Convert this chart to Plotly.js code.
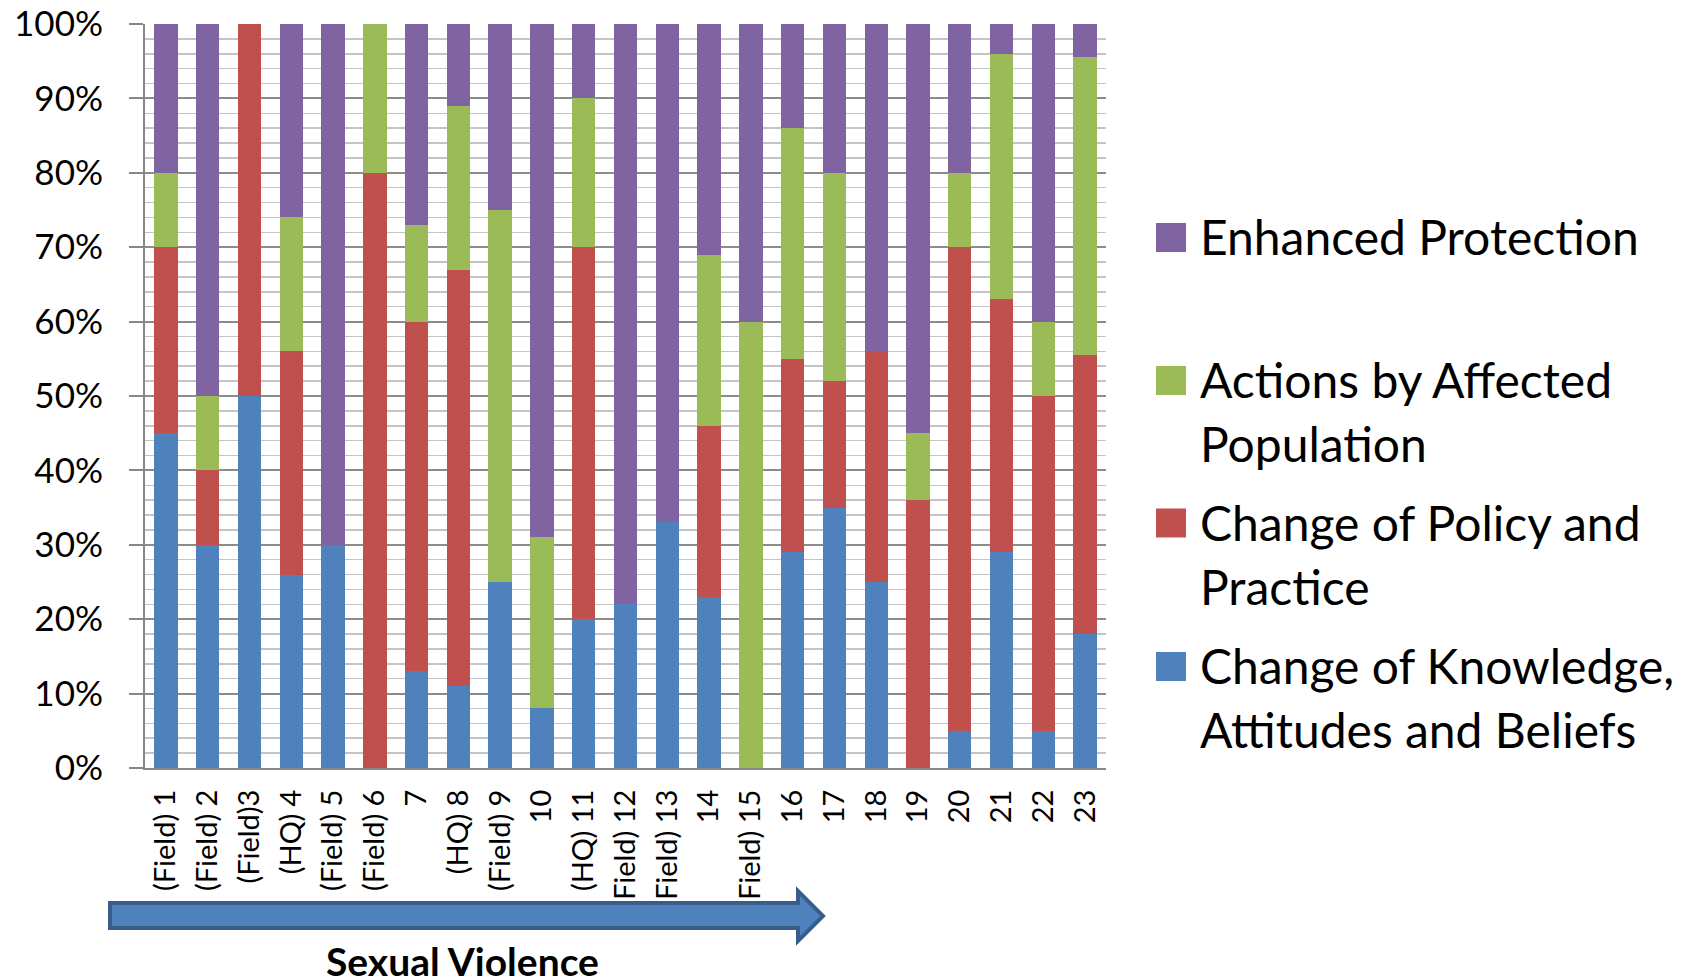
<!DOCTYPE html>
<html>
<head>
<meta charset="utf-8">
<script src="https://cdn.plot.ly/plotly-3.0.1.min.js"></script>
<style>
  html, body { margin: 0; padding: 0; background: #ffffff; }
  #chart { width: 1696px; height: 978px; }
</style>
</head>
<body>
<div id="chart"></div>
<script>
// ---- Data ----
const categories = ["(Field) 1", "(Field) 2", "(Field)3", "(HQ) 4", "(Field) 5", "(Field) 6", "7",
  "(HQ) 8", "(Field) 9", "10", "(HQ) 11", "(Field) 12", "(Field) 13", "14", "(Field) 15",
  "16", "17", "18", "19", "20", "21", "22", "23"];

const knowledge  = [45, 30, 50, 26, 30,  0, 13, 11, 25,  8, 20, 22, 33, 23,  0, 29, 35, 25,  0,  5, 29,  5, 18];
const policy     = [25, 10, 50, 30,  0, 80, 47, 56,  0,  0, 50,  0,  0, 23,  0, 26, 17, 31, 36, 65, 34, 45, 37.5];
const actions    = [10, 10,  0, 18,  0, 20, 13, 22, 50, 23, 20,  0,  0, 23, 60, 31, 28,  0,  9, 10, 33, 10, 40];
const protection = [20, 50,  0, 26, 70,  0, 27, 11, 25, 69, 10, 78, 67, 31, 40, 14, 20, 44, 55, 20,  4, 40, 4.5];

const seriesNames = ["Change of Knowledge, Attitudes and Beliefs", "Change of Policy and Practice",
  "Actions by Affected Population", "Enhanced Protection"];
const legendLines = [["Change of Knowledge,", "Attitudes and Beliefs"], ["Change of Policy and", "Practice"],
  ["Actions by Affected", "Population"], ["Enhanced Protection"]];
const seriesValues = [knowledge, policy, actions, protection];
const colors = ["#4F81BD", "#C0504D", "#9BBB59", "#8064A2"];
const groupLabel = "Sexual Violence";

// ---- Geometry helpers (pixel -> paper) ----
const W = 1696, H = 978;
const M = {l: 145, r: 590, t: 24, b: 210};
const PW = W - M.l - M.r, PH = H - M.t - M.b;
const px = x => (x - M.l) / PW;
const py = y => (H - M.b - y) / PH;

const FONT = "Lato, 'Open Sans', 'Noto Sans', sans-serif";

const traces = seriesValues.map((vals, i) => ({
  type: "bar",
  name: seriesNames[i],
  x: categories,
  y: vals,
  marker: {color: colors[i], line: {width: 0}},
  showlegend: false,
  hovertemplate: "%{x}: %{y}%<extra>" + seriesNames[i] + "</extra>"
}));

// custom legend (top entry = last series)
const shapes = [];
const annotations = [];
const legendCenters = [666.5, 523, 380.5, 237.5]; // per series index
const lineStep = 64;
seriesNames.forEach((n, i) => {
  const cy = legendCenters[i];
  shapes.push({type: "rect", xref: "paper", yref: "paper",
    x0: px(1156), x1: px(1186), y0: py(cy - 14.5), y1: py(cy + 14.5),
    fillcolor: colors[i], line: {width: 0}});
  legendLines[i].forEach((t, k) => {
    annotations.push({xref: "paper", yref: "paper", x: px(1198), y: py(cy - 1 + k * lineStep),
      xanchor: "left", yanchor: "middle", showarrow: false, text: t,
      font: {family: FONT, size: 48, color: "#000000"}});
  });
});

// Block arrow under the category labels
const ap = [[110, 903], [798, 903], [798, 891], [823, 916], [798, 941], [798, 928], [110, 928]];
const path = ap.map((p, k) => (k === 0 ? "M" : "L") + px(p[0]).toFixed(5) + "," + py(p[1]).toFixed(5)).join(" ") + " Z";
shapes.push({type: "path", xref: "paper", yref: "paper", path: path,
  fillcolor: "#4F81BD", line: {color: "#385D8A", width: 4}, layer: "above"});

annotations.push({xref: "paper", yref: "paper", x: px(462), y: py(961), xanchor: "center", yanchor: "middle",
  showarrow: false, text: "<b>" + groupLabel + "</b>",
  font: {family: FONT, size: 39, color: "#000000"}});

const layout = {
  width: W, height: H,
  margin: M,
  paper_bgcolor: "#ffffff",
  plot_bgcolor: "#ffffff",
  barmode: "stack",
  bargap: 0.44,
  showlegend: false,
  font: {family: FONT, color: "#000000"},
  xaxis: {
    type: "category",
    showgrid: false,
    showline: true, linecolor: "#868686", linewidth: 2,
    ticks: "",
    tickangle: -90,
    tickfont: {family: FONT, size: 29, color: "#000000"},
    ticklabelstandoff: 8,
    zeroline: false,
    fixedrange: true
  },
  yaxis: {
    range: [0, 100],
    dtick: 10,
    ticksuffix: "%",
    showgrid: true, gridcolor: "#8C8C8C", gridwidth: 2,
    showline: true, linecolor: "#868686", linewidth: 2,
    ticks: "outside", ticklen: 14, tickwidth: 2, tickcolor: "#868686",
    tickfont: {family: FONT, size: 35, color: "#000000"},
    ticklabelstandoff: 19,
    zeroline: false,
    minor: {dtick: 2, showgrid: true, gridcolor: "#C4C4C4", gridwidth: 1.5, ticks: ""},
    fixedrange: true
  },
  shapes: shapes,
  annotations: annotations
};

Plotly.newPlot("chart", traces, layout, {displayModeBar: false, staticPlot: true});
</script>
</body>
</html>
